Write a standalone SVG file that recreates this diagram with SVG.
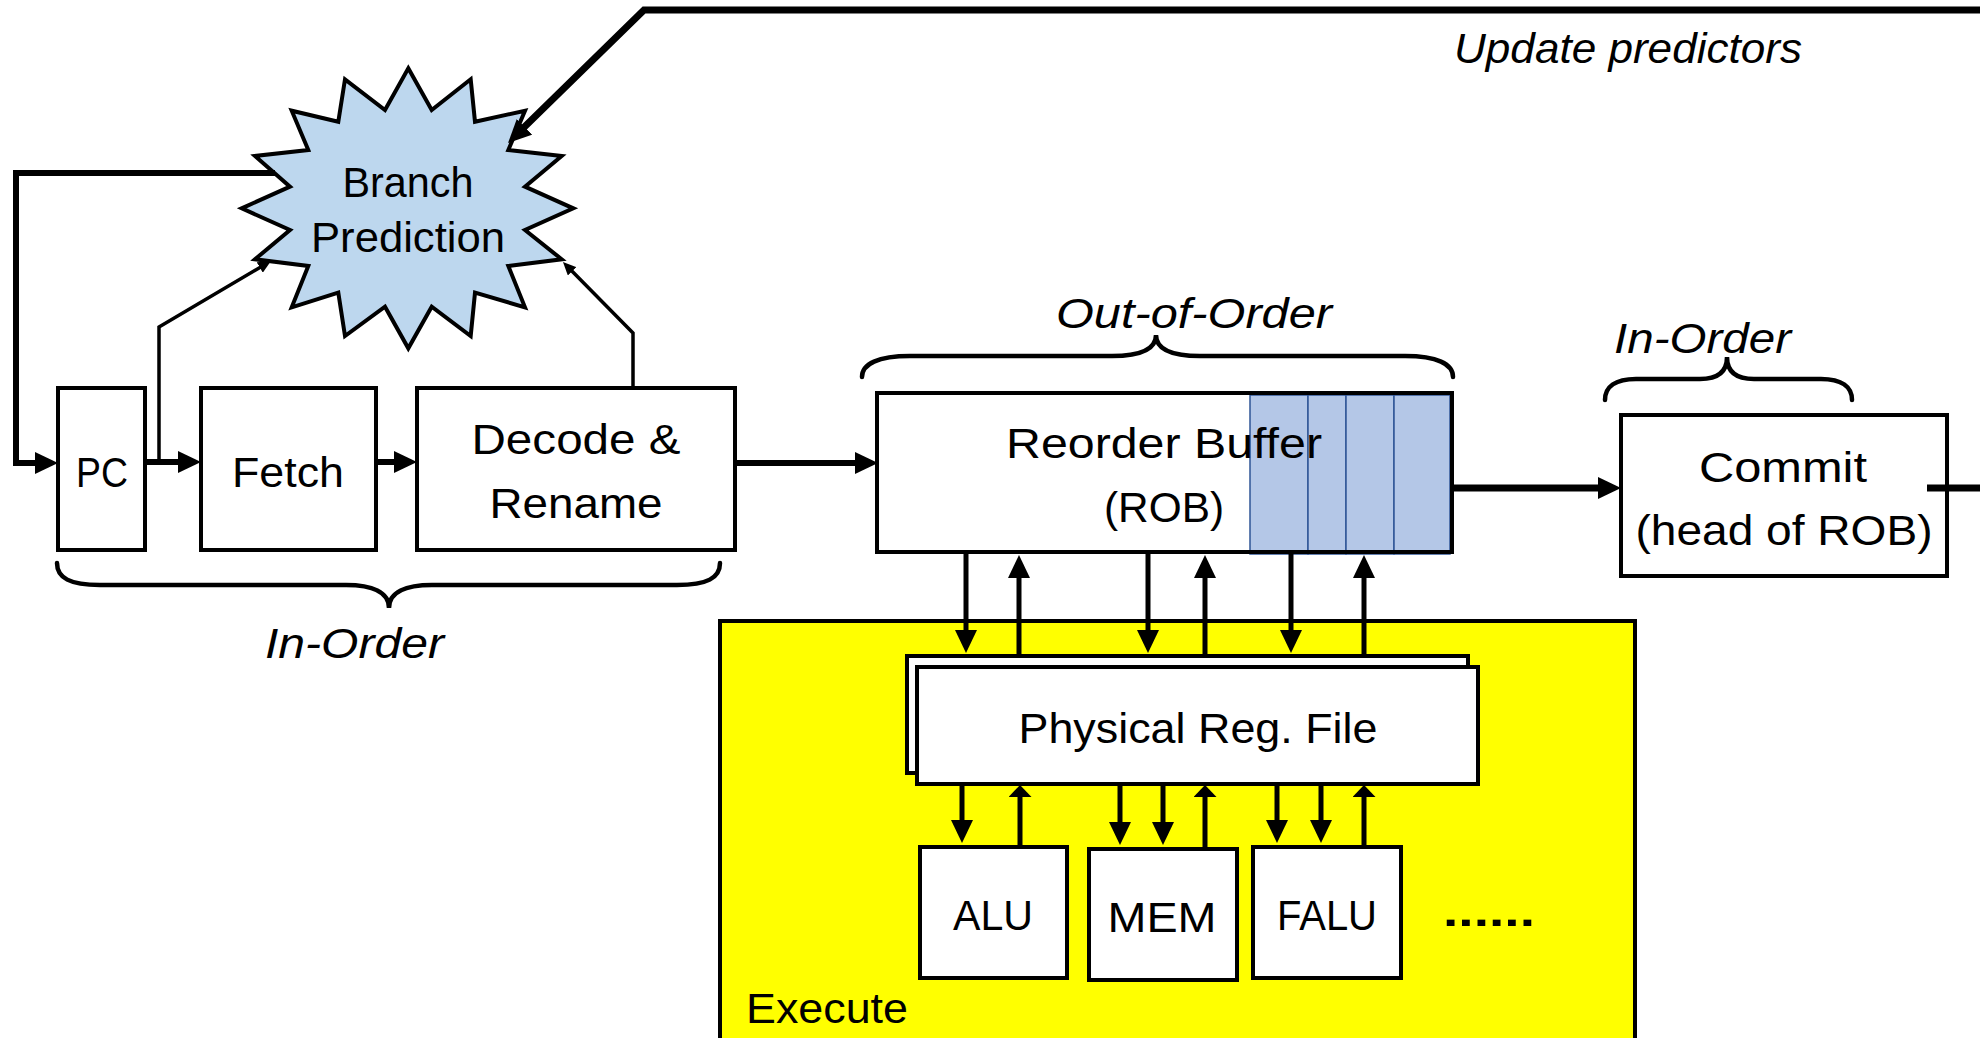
<svg xmlns="http://www.w3.org/2000/svg" width="1980" height="1038" viewBox="0 0 1980 1038">
  <style>
    .box { fill: #ffffff; stroke: #000000; stroke-width: 4; }
    .lbl { font-family: "Liberation Sans", Arial, sans-serif; font-size: 43px; fill: #000000; text-anchor: middle; }
    .ital { font-family: "Liberation Sans", Arial, sans-serif; font-size: 43px; font-style: italic; fill: #000000; }
    .wire { fill: none; stroke: #000000; stroke-linejoin: miter; }
    .w7 { stroke-width: 7; }
    .w6 { stroke-width: 6; }
    .w5 { stroke-width: 5; }
    .w3 { stroke-width: 3.5; }
    .brace { fill: none; stroke: #000000; stroke-width: 4.5; stroke-linecap: round; }
    .cell { fill: #b4c7e7; stroke: #2f5597; stroke-width: 1.5; }
  </style>
  <defs>
    <!-- filled arrowhead; the tip sits 11 units past the line end -->
    <marker id="ah" markerUnits="userSpaceOnUse" markerWidth="24" markerHeight="22" refX="12" refY="11" orient="auto">
      <path d="M0,0 L23,11 L0,22 z" fill="#000000"/>
    </marker>
    <!-- short, wide arrowhead; tip sits 6 units past the line end -->
    <marker id="ahf" markerUnits="userSpaceOnUse" markerWidth="13" markerHeight="23" refX="6" refY="11.5" orient="auto">
      <path d="M0,0 L12,11.5 L0,23 z" fill="#000000"/>
    </marker>
    <!-- small arrowhead for the thin wires; tip sits 6 units past the line end -->
    <marker id="ahs" markerUnits="userSpaceOnUse" markerWidth="14" markerHeight="12" refX="7" refY="6" orient="auto">
      <path d="M0,0 L13,6 L0,12 z" fill="#000000"/>
    </marker>
  </defs>

  <!-- Execute region -->
  <g id="execute">
    <rect x="720" y="621" width="915" height="500" fill="#ffff00" stroke="#000000" stroke-width="4"/>
    <text class="lbl" x="746" y="1023" style="text-anchor:start" textLength="162" lengthAdjust="spacingAndGlyphs">Execute</text>
  </g>

  <!-- Branch prediction starburst -->
  <g id="branch-prediction">
    <polygon points="408.3,68.3 431.7,110 470.7,79.3 475,121.7 525,110.7 508.3,150 561.7,156 525,186.7 573.3,208.3 525,230 561.7,259.3 508.3,266 525,307.3 475,292.7 470.7,336 431.7,306.7 408.3,348.3 385,306.7 345,336 338.3,292.7 291.7,307.3 308.3,266 255,259.3 290,230 241.7,208.3 290,186.7 255,156 308.3,150 291.7,110.7 338.3,121.7 345,79.3 385,110" fill="#bdd7ee" stroke="#000000" stroke-width="4" stroke-linejoin="miter"/>
    <text class="lbl" x="408" y="197" textLength="131" lengthAdjust="spacingAndGlyphs">Branch</text>
    <text class="lbl" x="408" y="252" textLength="194" lengthAdjust="spacingAndGlyphs">Prediction</text>
  </g>

  <g id="pc">
    <rect class="box" x="58" y="388" width="87" height="162"/>
    <text class="lbl" x="102" y="487" textLength="52" lengthAdjust="spacingAndGlyphs">PC</text>
  </g>

  <g id="fetch">
    <rect class="box" x="201" y="388" width="175" height="162"/>
    <text class="lbl" x="288" y="487" textLength="112" lengthAdjust="spacingAndGlyphs">Fetch</text>
  </g>

  <g id="decode-rename">
    <rect class="box" x="417" y="388" width="318" height="162"/>
    <text class="lbl" x="576" y="454" textLength="209" lengthAdjust="spacingAndGlyphs">Decode &amp;</text>
    <text class="lbl" x="576" y="518" textLength="173" lengthAdjust="spacingAndGlyphs">Rename</text>
  </g>

  <g id="rob">
    <rect class="box" x="877" y="393" width="575" height="159"/>
    <rect class="cell" x="1250" y="395" width="58" height="159"/>
    <rect class="cell" x="1308" y="395" width="38" height="159"/>
    <rect class="cell" x="1346" y="395" width="48" height="159"/>
    <rect class="cell" x="1394" y="395" width="56" height="159"/>
    <rect x="877" y="393" width="575" height="159" fill="none" stroke="#000000" stroke-width="4"/>
    <text class="lbl" x="1164" y="458" textLength="316" lengthAdjust="spacingAndGlyphs">Reorder Buffer</text>
    <text class="lbl" x="1164" y="522" textLength="120" lengthAdjust="spacingAndGlyphs">(ROB)</text>
  </g>

  <g id="commit">
    <rect class="box" x="1621" y="415" width="326" height="161"/>
    <text class="lbl" x="1783" y="482" textLength="168" lengthAdjust="spacingAndGlyphs">Commit</text>
    <text class="lbl" x="1784" y="545" textLength="297" lengthAdjust="spacingAndGlyphs">(head of ROB)</text>
  </g>

  <g id="physical-reg-file">
    <rect class="box" x="907" y="656" width="561" height="117"/>
    <rect class="box" x="917" y="667" width="561" height="117"/>
    <text class="lbl" x="1198" y="743" textLength="359" lengthAdjust="spacingAndGlyphs">Physical Reg. File</text>
  </g>

  <g id="alu">
    <rect class="box" x="920" y="847" width="147" height="131"/>
    <text class="lbl" x="993" y="930" textLength="80" lengthAdjust="spacingAndGlyphs">ALU</text>
  </g>

  <g id="mem">
    <rect class="box" x="1089" y="849" width="148" height="131"/>
    <text class="lbl" x="1162" y="932" textLength="109" lengthAdjust="spacingAndGlyphs">MEM</text>
  </g>

  <g id="falu">
    <rect class="box" x="1253" y="847" width="148" height="131"/>
    <text class="lbl" x="1327" y="930" textLength="100" lengthAdjust="spacingAndGlyphs">FALU</text>
  </g>

  <g id="more-units">
    <text class="lbl" x="1489" y="926" font-weight="bold" textLength="92" lengthAdjust="spacingAndGlyphs">......</text>
  </g>

  <!-- stage annotations -->
  <g id="annotations">
    <path class="brace" d="M57,563 C57,578 70,585 100,585 L346,585 C372,585 389,592 389,608 C389,592 406,585 432,585 L677,585 C707,585 720,578 720,563"/>
    <text class="ital" x="265" y="658" textLength="179" lengthAdjust="spacingAndGlyphs">In-Order</text>

    <path class="brace" d="M862,377 C862,364 878,356 910,356 L1112,356 C1140,356 1156,350 1156,335 C1156,350 1172,356 1200,356 L1405,356 C1437,356 1453,364 1453,377"/>
    <text class="ital" x="1056" y="328" textLength="276" lengthAdjust="spacingAndGlyphs">Out-of-Order</text>

    <path class="brace" d="M1605,400 C1605,387 1615,379 1636,379 L1700,379 C1718,379 1727,372 1727,357 C1727,372 1736,379 1754,379 L1821,379 C1842,379 1852,387 1852,400"/>
    <text class="ital" x="1614" y="353" textLength="177" lengthAdjust="spacingAndGlyphs">In-Order</text>

    <text class="ital" x="1454" y="63" textLength="348" lengthAdjust="spacingAndGlyphs">Update predictors</text>
  </g>

  <!-- connectors -->
  <g id="connectors">
    <!-- predictor update from commit -->
    <path class="wire w7" d="M1980,10 H644 L515.9,135.3" marker-end="url(#ah)"/>
    <path class="wire w7" d="M1927,488 H1980"/>
    <!-- predicted PC back into PC -->
    <path class="wire w6" d="M275,173 H16 V463 H47" marker-end="url(#ah)"/>
    <!-- front end pipeline -->
    <path class="wire w6" d="M145,462 H190" marker-end="url(#ah)"/>
    <path class="wire w6" d="M376,462 H406" marker-end="url(#ah)"/>
    <path class="wire w6" d="M735,463 H867" marker-end="url(#ah)"/>
    <path class="wire w7" d="M1452,488 H1610" marker-end="url(#ah)"/>
    <!-- lookups into the predictor -->
    <path class="wire w3" d="M159,462 V327 L265.8,264" marker-end="url(#ahs)"/>
    <path class="wire w3" d="M633,388 V333 L567.2,266.3" marker-end="url(#ahs)"/>
    <!-- ROB to / from register file -->
    <path class="wire w5" d="M966,552 V642" marker-end="url(#ah)"/>
    <path class="wire w5" d="M1148,552 V642" marker-end="url(#ah)"/>
    <path class="wire w5" d="M1291,552 V642" marker-end="url(#ah)"/>
    <path class="wire w5" d="M1019,656 V566" marker-end="url(#ah)"/>
    <path class="wire w5" d="M1205,656 V566" marker-end="url(#ah)"/>
    <path class="wire w5" d="M1364,656 V566" marker-end="url(#ah)"/>
    <!-- register file to / from functional units -->
    <path class="wire w5" d="M962,786 V832" marker-end="url(#ah)"/>
    <path class="wire w5" d="M1120,786 V834" marker-end="url(#ah)"/>
    <path class="wire w5" d="M1163,786 V834" marker-end="url(#ah)"/>
    <path class="wire w5" d="M1277,786 V832" marker-end="url(#ah)"/>
    <path class="wire w5" d="M1321,786 V832" marker-end="url(#ah)"/>
    <path class="wire w5" d="M1020,847 V791" marker-end="url(#ahf)"/>
    <path class="wire w5" d="M1205,849 V791" marker-end="url(#ahf)"/>
    <path class="wire w5" d="M1364,847 V791" marker-end="url(#ahf)"/>
  </g>
</svg>
